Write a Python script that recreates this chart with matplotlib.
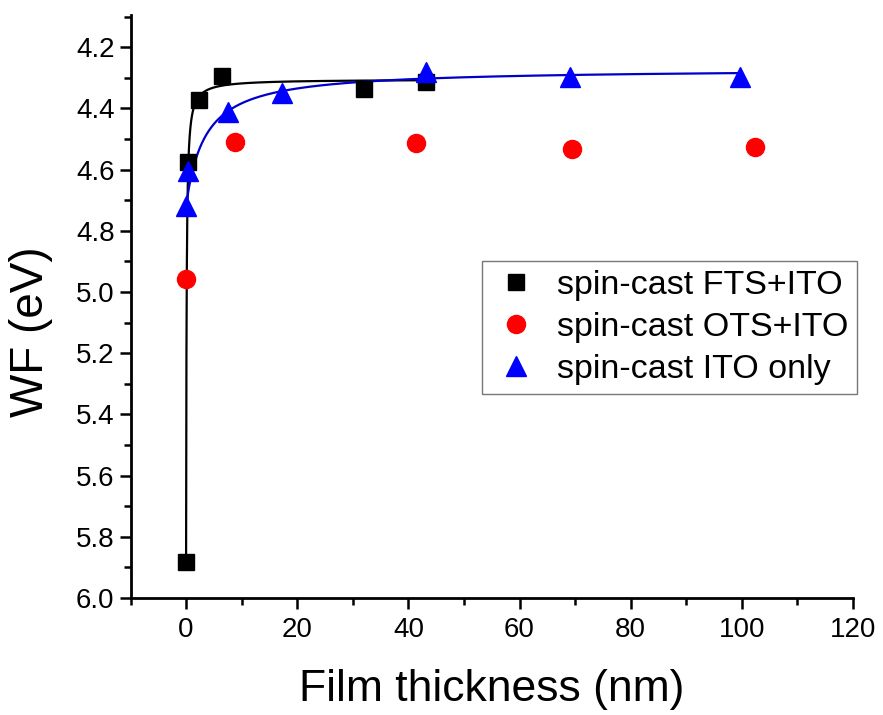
import numpy as np
import matplotlib.pyplot as plt
from matplotlib.ticker import MultipleLocator, FormatStrFormatter

plt.rcParams['font.family'] = ['Liberation Sans', 'DejaVu Sans']

# film thickness (nm) and work function (eV) for each film
fts_x = [0.0, 0.4, 2.3, 6.5, 32.1, 43.2]
fts_y = [5.883, 4.576, 4.373, 4.295, 4.337, 4.314]

ots_x = [0.0, 8.8, 41.4, 69.5, 102.3]
ots_y = [4.958, 4.510, 4.514, 4.533, 4.527]

ito_x = [0.0, 0.4, 7.6, 17.3, 43.1, 69.0, 99.6]
ito_y = [4.720, 4.605, 4.412, 4.350, 4.280, 4.298, 4.298]

labels = ['spin-cast FTS+ITO', 'spin-cast OTS+ITO', 'spin-cast ITO only']

# hyperbolic decay fit parameters  y = y0 + A / (x + c)
fts_fit = (4.305, 0.136, 0.086)
ito_fit = (4.270, 1.52, 3.39)


def fit_curve(x, p):
    y0, a, c = p
    return y0 + a / (x + c)


fig = plt.figure(figsize=(8.83, 7.15), dpi=100)
ax = fig.add_axes([0.1478, 0.1636, 0.8182, 0.8154])

xf = np.linspace(0, max(fts_x), 2000)
ax.plot(xf, fit_curve(xf, fts_fit), color='black', lw=1.6, zorder=2)
xi = np.linspace(0, max(ito_x), 2000)
ax.plot(xi, fit_curve(xi, ito_fit), color='#0000cc', lw=1.6, zorder=2)

ax.plot(fts_x, fts_y, 's', color='black', ms=11, ls='none', label=labels[0], zorder=3)
ax.plot(ots_x, ots_y, 'o', color='#ff0000', ms=13, ls='none', label=labels[1], zorder=3)
ax.plot(ito_x, ito_y, '^', color='#0000ff', ms=15, ls='none', label=labels[2], zorder=3)

ax.set_xlim(-10, 120)
ax.set_ylim(6.0, 4.095)

ax.xaxis.set_major_locator(MultipleLocator(20))
ax.xaxis.set_minor_locator(MultipleLocator(10))
ax.yaxis.set_major_locator(MultipleLocator(0.2))
ax.yaxis.set_minor_locator(MultipleLocator(0.1))
ax.yaxis.set_major_formatter(FormatStrFormatter('%.1f'))

for s in ['top', 'right']:
    ax.spines[s].set_visible(False)
for s in ['left', 'bottom']:
    ax.spines[s].set_linewidth(2)

ax.tick_params(which='major', direction='out', length=8, width=1.8, labelsize=20)
ax.tick_params(which='minor', direction='out', length=5, width=1.8)
ax.tick_params(axis='x', which='major', pad=6)
ax.tick_params(axis='y', which='major', pad=3.5)

ax.set_xlabel('Film thickness (nm)', fontsize=32)
ax.set_ylabel('WF (eV)', fontsize=33)
ax.xaxis.set_label_coords(0.5, -0.122)
ax.yaxis.set_label_coords(-0.107, 0.456)

leg = ax.legend(loc='upper left', bbox_to_anchor=(0.4865, 0.578), borderaxespad=0,
                fontsize=24.5, frameon=True, fancybox=False, edgecolor='#555555',
                handletextpad=0.45, labelspacing=0.33, borderpad=0.25,
                handlelength=1.5)
leg.get_frame().set_linewidth(1.0)

fig.savefig('out.png', dpi=100)
